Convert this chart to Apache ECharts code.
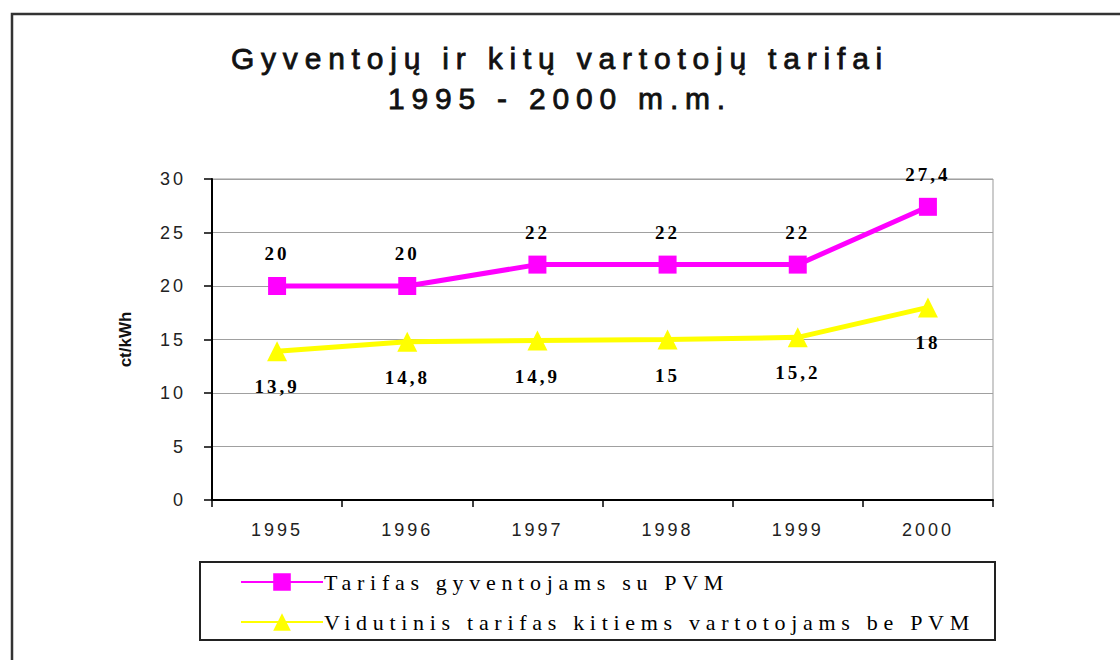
<!DOCTYPE html>
<html>
<head>
<meta charset="utf-8">
<script src="https://cdn.jsdelivr.net/npm/echarts@6/dist/echarts.min.js"></script>
<style>
html,body{margin:0;padding:0;background:#fff;}
#chart{width:1120px;height:660px;}
#chart text[style*="30px"]{letter-spacing:6.8px;}
#chart text[style*="19px"]{letter-spacing:3px;}
#chart text[style*="22px"]{letter-spacing:5.7px;}
#chart text[style*="18px"]{letter-spacing:3px;}
</style>
</head>
<body>
<div id="chart"></div>
<script>
var categories = ['1995', '1996', '1997', '1998', '1999', '2000'];
var seriesNames = ['Tarifas gyventojams su PVM', 'Vidutinis tarifas kitiems vartotojams be PVM'];
var residentialValues = [20, 20, 22, 22, 22, 27.4];
var otherValues = [13.9, 14.8, 14.9, 15, 15.2, 18];
var yTicks = [0, 5, 10, 15, 20, 25, 30];

var chart = echarts.init(document.getElementById('chart'), null, {renderer: 'svg'});

function fmt(p) { return String(p.value).replace('.', ','); }

var labelStyle = {
  show: true,
  fontFamily: 'Liberation Serif',
  fontWeight: 'bold',
  fontSize: 19,
  color: '#000',
  formatter: fmt
};

chart.setOption({
  animation: false,
  backgroundColor: '#fff',
  title: {
    text: 'Gyventojų ir kitų vartotojų tarifai\n1995 - 2000 m.m.',
    left: 'center',
    top: 33,
    textStyle: {
      fontFamily: 'Liberation Sans',
      fontSize: 30,
      fontWeight: 'normal',
      color: '#111',
      textBorderColor: '#111',
      textBorderWidth: 0.8,
      lineHeight: 40
    }
  },
  graphic: [
    {type: 'rect', shape: {x: 12, y: 14, width: 1200, height: 700}, style: {fill: 'none', stroke: '#333', lineWidth: 2.5}, silent: true},
    {type: 'rect', shape: {x: 200, y: 562, width: 795, height: 78}, style: {fill: 'none', stroke: '#222', lineWidth: 2}, silent: true}
  ],
  legend: {
    orient: 'vertical',
    left: 240,
    top: 571,
    padding: 0,
    itemWidth: 82,
    itemHeight: 22,
    itemGap: 18,
    textStyle: {fontFamily: 'Liberation Serif', fontSize: 22, color: '#000', padding: [0, 0, 0, -4]},
    data: seriesNames
  },
  grid: {
    left: 212,
    right: 127,
    top: 179,
    bottom: 160,
    show: true,
    borderColor: '#999',
    borderWidth: 1,
    backgroundColor: 'transparent'
  },
  xAxis: {
    type: 'category',
    data: categories,
    boundaryGap: true,
    axisLine: {lineStyle: {color: '#000', width: 2}},
    axisTick: {show: true, length: 7, lineStyle: {color: '#000', width: 1.5}},
    axisLabel: {fontFamily: 'Liberation Sans', fontSize: 18, color: '#222', margin: 21},
    splitLine: {show: false}
  },
  yAxis: {
    type: 'value',
    min: yTicks[0],
    max: yTicks[yTicks.length - 1],
    interval: 5,
    name: 'ct/kWh',
    nameLocation: 'middle',
    nameGap: 78,
    nameRotate: 90,
    nameTextStyle: {fontFamily: 'Liberation Sans', fontSize: 17, fontWeight: 'bold', color: '#111'},
    axisLine: {show: true, lineStyle: {color: '#000', width: 2}},
    axisTick: {show: true, length: 8, lineStyle: {color: '#000', width: 1.5}},
    axisLabel: {fontFamily: 'Liberation Sans', fontSize: 18, color: '#222', margin: 26},
    splitLine: {show: true, lineStyle: {color: '#a0a0a0', width: 1}}
  },
  series: [
    {
      name: seriesNames[0],
      type: 'line',
      data: residentialValues,
      symbol: 'rect',
      symbolSize: 18,
      lineStyle: {color: '#ff00ff', width: 5},
      itemStyle: {color: '#ff00ff'},
      label: Object.assign({}, labelStyle, {position: 'top', distance: 14})
    },
    {
      name: seriesNames[1],
      type: 'line',
      data: otherValues,
      symbol: 'triangle',
      symbolSize: 20,
      lineStyle: {color: '#ffff00', width: 5},
      itemStyle: {color: '#ffff00'},
      label: Object.assign({}, labelStyle, {position: 'bottom', distance: 16})
    }
  ]
});
</script>
</body>
</html>
